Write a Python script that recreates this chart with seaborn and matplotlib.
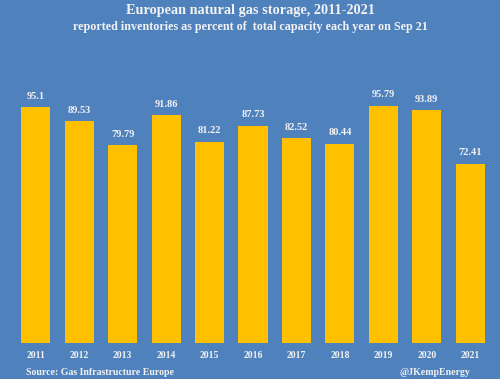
import numpy as np
import pandas as pd
import matplotlib
matplotlib.use('Agg')
import matplotlib.pyplot as plt
import seaborn as sns

years = ['2011', '2012', '2013', '2014', '2015', '2016', '2017', '2018', '2019', '2020', '2021']
storage = [95.1, 89.53, 79.79, 91.86, 81.22, 87.73, 82.52, 80.44, 95.79, 93.89, 72.41]
labels = ['95.1', '89.53', '79.79', '91.86', '81.22', '87.73', '82.52', '80.44', '95.79', '93.89', '72.41']

bg = '#4F81BD'
bar_color = '#FFC000'
txt = '#F2F2F2'

sns.set_style('white')
plt.rcParams['font.family'] = ['Liberation Serif', 'DejaVu Serif']
plt.rcParams['font.weight'] = 'bold'

df = pd.DataFrame({'year': years, 'storage': storage})

fig = plt.figure(figsize=(5, 3.79), dpi=100, facecolor=bg)
ax = fig.add_axes([0.028, 0.095, 0.956, 0.654])
ax.set_facecolor(bg)

sns.barplot(data=df, x='year', y='storage', color=bar_color, saturation=1, width=0.67,
            linewidth=0, edgecolor=bar_color, ax=ax)

for i, (v, lab) in enumerate(zip(storage, labels)):
    ax.text(i, v + 2.5, lab, ha='center', va='bottom', color=txt, fontsize=7.5, fontweight='bold')

ax.set_ylim(0, 100)
ax.set_xlim(-0.5, len(years) - 0.5)
ax.set_yticks([])
ax.set_xlabel('')
ax.set_ylabel('')
ax.tick_params(axis='x', length=0, pad=6, labelsize=7, labelcolor=txt)
for lbl in ax.get_xticklabels():
    lbl.set_fontweight('bold')
for s in ax.spines.values():
    s.set_visible(False)

fig.text(0.5, 0.973, 'European natural gas storage, 2011-2021', ha='center', va='center',
         color=txt, fontsize=10.3, fontweight='bold')
fig.text(0.5, 0.93, 'reported inventories as percent of  total capacity each year on Sep 21',
         ha='center', va='center', color=txt, fontsize=8.7, fontweight='bold')
fig.text(0.052, 0.016, 'Source: Gas Infrastructure Europe', ha='left', va='center',
         color=txt, fontsize=7.1, fontweight='bold')
fig.text(0.94, 0.016, '@JKempEnergy', ha='right', va='center',
         color=txt, fontsize=7.1, fontweight='bold')

fig.savefig('out.png', dpi=100, facecolor=bg)
